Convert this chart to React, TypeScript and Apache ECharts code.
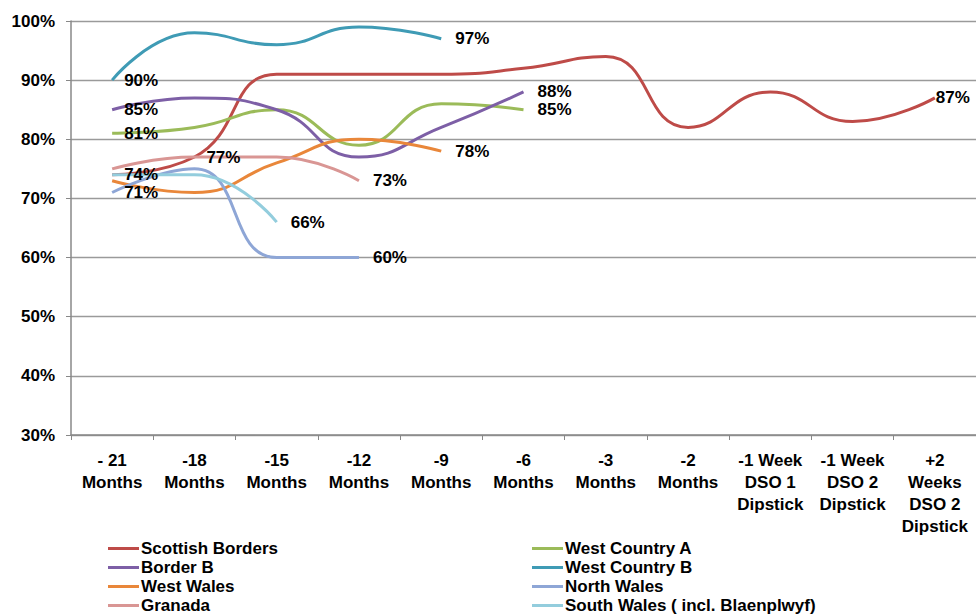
import React, { useEffect, useRef } from "react";
import * as echarts from "echarts";

const categories = [
  "- 21\nMonths", "-18\nMonths", "-15\nMonths", "-12\nMonths", "-9\nMonths", "-6\nMonths",
  "-3\nMonths", "-2\nMonths", "-1 Week\nDSO 1\nDipstick", "-1 Week\nDSO 2\nDipstick", "+2\nWeeks\nDSO 2\nDipstick",
];

const scottishBorders = [74, 77, 91, 91, 91, 92, 94, 82, 88, 83, 87];
const westCountryA = [81, 82, 85, 79, 86, 85];
const borderB = [85, 87, 85, 77, 82, 88];
const westCountryB = [90, 98, 96, 99, 97];
const westWales = [73, 71, 76, 80, 78];
const northWales = [71, 75, 60, 60];
const granada = [75, 77, 77, 73];
const southWales = [74, 74, 66];

const yTicks = { min: 30, max: 100, interval: 10 };

type S = { name: string; values: number[]; color: string; labels: number[] };
const seriesDefs: S[] = [
  { name: "Scottish Borders", values: scottishBorders, color: "#BE4B48", labels: [1, 10] },
  { name: "West Country A", values: westCountryA, color: "#9BBB59", labels: [0, 5] },
  { name: "Border B", values: borderB, color: "#7D5FA6", labels: [0, 5] },
  { name: "West Country B", values: westCountryB, color: "#3F9BB5", labels: [0, 4] },
  { name: "West Wales", values: westWales, color: "#E9873A", labels: [4] },
  { name: "North Wales", values: northWales, color: "#8EA6D6", labels: [0, 3] },
  { name: "Granada", values: granada, color: "#D99694", labels: [3] },
  { name: "South Wales ( incl. Blaenplwyf)", values: southWales, color: "#93CDDD", labels: [0, 2] },
];

const FONT = "'Liberation Sans', Arial, sans-serif";

export default function App() {
  const ref = useRef<HTMLDivElement>(null);
  useEffect(() => {
    document.body.style.margin = "0";
    const chart = echarts.init(ref.current!, null, { renderer: "svg" });
    const series = seriesDefs.map((s) => ({
      name: s.name,
      type: "line",
      smooth: 0.5,
      symbol: "circle",
      symbolSize: 0,
      color: s.color,
      lineStyle: { width: 3, color: s.color },
      emphasis: { disabled: true },
      silent: true,
      data: s.values.map((v, i) => {
        const isLast = i === s.values.length - 1;
        const show = s.labels.includes(i);
        const dist = isLast ? (i === 10 ? 1 : 14) : 12;
        return {
          value: v,
          label: {
            show,
            position: "right",
            distance: dist,
            formatter: "{c}%",
            fontFamily: FONT,
            fontWeight: "bold",
            fontSize: 17,
            color: "#000",
          },
        };
      }),
    }));
    const legendCommon = {
      orient: "vertical",
      top: 539,
      icon: "rect",
      itemWidth: 31,
      itemHeight: 3,
      itemGap: 0,
      padding: 0,
      textStyle: { fontFamily: FONT, fontWeight: "bold", fontSize: 17, color: "#000", lineHeight: 19, padding: [0, 0, 0, -3] },
      selectedMode: false,
    };
    chart.setOption({
      animation: false,
      backgroundColor: "#fff",
      grid: { left: 71, top: 21, right: -1, bottom: 180, containLabel: false },
      legend: [
        { ...legendCommon, left: 108, data: ["Scottish Borders", "Border B", "West Wales", "Granada"] },
        { ...legendCommon, left: 532, data: ["West Country A", "West Country B", "North Wales", "South Wales ( incl. Blaenplwyf)"] },
      ],
      xAxis: {
        type: "category",
        data: categories,
        boundaryGap: true,
        axisLine: { lineStyle: { color: "#888", width: 1.5 } },
        axisTick: { show: true, length: 5, lineStyle: { color: "#888" } },
        axisLabel: {
          interval: 0,
          margin: 14,
          fontFamily: FONT,
          fontWeight: "bold",
          fontSize: 17,
          lineHeight: 22,
          color: "#000",
        },
      },
      yAxis: {
        type: "value",
        min: yTicks.min,
        max: yTicks.max,
        interval: yTicks.interval,
        axisLine: { show: true, lineStyle: { color: "#888", width: 1.5 } },
        axisTick: { show: true, length: 5, lineStyle: { color: "#888" } },
        splitLine: { lineStyle: { color: "#9A9A9A", width: 1.3 } },
        axisLabel: {
          formatter: "{value}%",
          margin: 16,
          fontFamily: FONT,
          fontWeight: "bold",
          fontSize: 17,
          color: "#000",
        },
      },
      series,
    } as any);
    return () => chart.dispose();
  }, []);
  return <div ref={ref} style={{ position: "absolute", left: 0, top: 0, width: 976, height: 615 }} />;
}
